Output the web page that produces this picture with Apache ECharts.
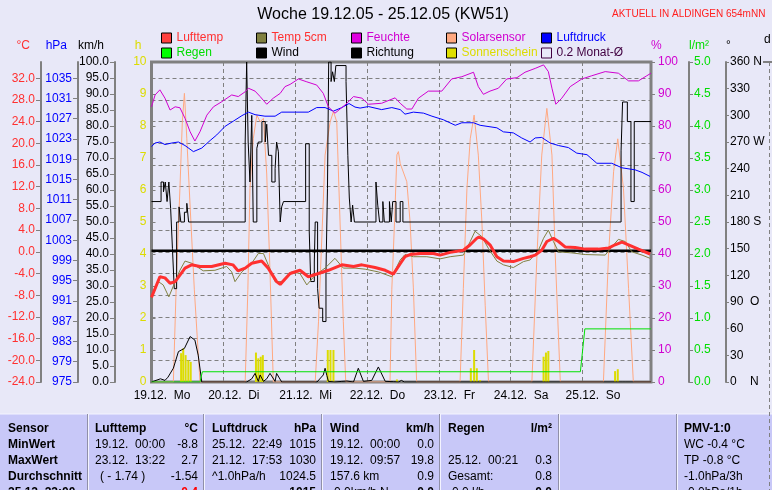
<!DOCTYPE html>
<html><head><meta charset="utf-8">
<script src="https://cdn.jsdelivr.net/npm/echarts@6/dist/echarts.min.js"></script>
<style>html,body{margin:0;padding:0;background:#e8e8f8;}#c{width:772px;height:490px;}</style>
</head><body><div id="c"></div>
<script>
// x values: hours since 19.12.05 00:00
const dayLabels = ['19.12.  Mo','20.12.  Di','21.12.  Mi','22.12.  Do','23.12.  Fr','24.12.  Sa','25.12.  So'];
const dirLabels = {360:'360 N',270:'270 W',180:'180 S',90:'90  O',0:'0    N'};

const lufttemp = [[0,-8.4],[2.8,-4.6],[4.5,-4.8],[6.2,-5.8],[7.9,-5.5],[9.5,-4.3],[11.2,-3.0],[13.4,-2.4],[16.2,-2.7],[20.1,-2.7],[24.6,-2.1],[27.2,-2.4],[28.9,-3.5],[31.3,-3.0],[33.5,-2.1],[36.8,-1.7],[39.0,-3.0],[41.8,-5.5],[43.0,-6.0],[46.3,-4.0],[49.6,-3.4],[52.4,-4.6],[55.8,-4.0],[59.1,-3.4],[63.6,-2.4],[67.5,-2.7],[70.3,-2.4],[74.7,-2.9],[78.1,-3.4],[80.8,-4.1],[83.1,-2.2],[84.7,-0.9],[86.4,-0.5],[89.8,-0.3],[94.2,-0.3],[96.4,-0.6],[99.8,-0.1],[104.2,0.3],[106.5,1.3],[108.7,2.5],[109.4,2.7],[110.9,2.4],[113.1,1.3],[115.4,-0.9],[117.6,-1.7],[120.9,-1.8],[124.3,-1.2],[126.5,-0.9],[128.2,-0.6],[130.4,0.3],[132.1,1.9],[134.3,2.5],[136.0,1.9],[138.2,0.9],[141.6,0.8],[144.9,0.5],[149.3,0.5],[152.7,0.7],[154.9,1.3],[157.2,1.8],[159.4,1.3],[162.7,0.5],[166.6,-0.4]];
const temp5cm = [[0,-8.6],[2.3,-5.5],[3.9,-6.1],[5.8,-8.3],[7.9,-5.5],[9.5,-3.4],[11.2,-1.7],[13.4,-2.1],[17.3,-3.5],[21.2,-3.4],[25.1,-2.7],[26.8,-3.7],[27.9,-5.5],[30.2,-3.7],[33.5,-2.1],[35.7,-0.3],[37.4,-0.3],[39.0,-2.4],[41.3,-5.5],[43.5,-5.5],[46.9,-3.7],[49.6,-4.0],[51.9,-6.1],[54.7,-4.3],[58.0,-3.0],[61.3,-1.2],[64.1,-3.0],[68.0,-3.0],[71.4,-3.2],[75.8,-3.7],[80.3,-4.6],[83.1,-1.5],[84.7,-0.5],[87.5,-0.9],[92.0,-0.9],[96.4,-1.3],[99.8,-0.9],[104.2,-0.6],[106.5,1.9],[108.1,3.8],[110.4,2.8],[112.6,0.6],[115.4,-1.7],[117.6,-2.4],[120.9,-2.9],[124.3,-1.8],[126.5,-1.5],[129.3,0.3],[131.0,2.5],[132.6,4.0],[134.3,1.9],[136.0,0.0],[140.5,-0.2],[144.9,-0.5],[151.6,-0.6],[153.8,0.9],[156.0,2.3],[158.3,1.9],[160.5,0.0],[163.9,-0.6],[166.6,-1.2]];
const feuchte = [[0,86.0],[1.2,89.7],[2.8,91.3],[4.5,88.7],[6.2,85.0],[7.9,86.0],[9.5,85.7],[11.2,82.4],[12.9,78.2],[14.5,75.3],[16.2,78.2],[18.5,83.4],[20.7,86.0],[23.5,87.6],[26.8,89.7],[29.0,89.2],[31.3,90.7],[32.4,91.8],[34.6,90.9],[36.3,89.2],[38.5,86.8],[40.7,88.7],[43.0,90.2],[44.6,92.3],[46.3,93.0],[49.1,94.7],[51.9,93.8],[55.2,92.8],[57.4,90.2],[59.1,86.0],[61.3,84.0],[64.7,86.6],[67.5,89.2],[70.3,88.7],[72.5,86.8],[76.9,87.1],[81.4,88.8],[83.1,87.1],[85.3,85.3],[87.0,85.3],[89.2,88.7],[92.5,90.9],[97.0,90.9],[100.3,94.7],[103.7,95.4],[107.6,96.8],[109.2,92.3],[110.9,89.9],[113.1,90.9],[115.9,91.8],[118.7,94.7],[122.1,95.1],[124.8,96.8],[128.2,98.0],[131.0,99.1],[132.6,97.0],[133.8,91.8],[135.1,86.8],[137.1,88.7],[139.9,92.3],[143.8,94.7],[147.1,95.7],[151.6,97.0],[156.0,96.5],[159.4,94.1],[162.7,94.1],[165.5,95.7],[166.9,96.5]];
const solar = [[0,0],[7.3,0],[8.4,34.5],[9.5,60.5],[10.3,81.3],[11.0,90.2],[11.8,76],[12.9,55],[14.3,29],[16.2,0],[31.3,0],[32.2,29],[32.9,60.5],[34.0,76],[35.2,83.4],[36.3,81.3],[37.4,82.4],[38.5,65],[39.6,34.5],[40.7,0],[54.7,0],[55.8,18.8],[58.0,70.9],[59.7,81.3],[60.8,84.5],[61.9,81.3],[63.0,50],[64.1,18.8],[64.9,0],[79.7,0],[80.3,29],[81.2,50],[82.0,71],[82.5,72],[83.1,68.3],[85.3,62.6],[86.4,50],[87.5,29.4],[88.6,0],[103.1,0],[104.2,29.3],[105.4,60.5],[106.5,76],[107.8,83.4],[109.2,70.9],[110.4,50],[111.5,24],[112.6,0],[127.1,0],[128.8,39.7],[130.4,70.9],[132.1,85.5],[133.8,70.9],[134.9,39.7],[136.6,0],[151.0,0],[152.7,39.7],[154.4,65.7],[155.8,76],[157.7,60.5],[159.4,29.3],[161.0,0],[166.9,0]];
const luftdruck = [[0,1021.5],[1.2,1022.2],[2.8,1022.4],[4.5,1021.9],[6.8,1022.2],[9.0,1022.4],[11.2,1021.7],[14.0,1020.5],[16.8,1021.2],[19.6,1022.7],[21.8,1023.8],[24.6,1025.5],[27.3,1026.5],[30.2,1027.6],[32.4,1028.3],[34.6,1027.8],[37.9,1027.5],[41.3,1027.5],[43.5,1028.3],[48.0,1028.3],[52.4,1028.3],[55.2,1029.2],[58.0,1029.2],[60.8,1028.5],[63.6,1029.2],[66.0,1030.0],[68.0,1029.3],[69.7,1029.1],[72.5,1029.4],[76.9,1028.8],[80.3,1029.2],[83.1,1028.8],[84.7,1027.9],[87.5,1028.3],[90.9,1028.1],[93.7,1027.5],[97.5,1026.8],[101.5,1025.7],[103.7,1026.2],[107.6,1026.2],[109.8,1025.7],[115.4,1025.2],[117.6,1024.4],[120.9,1024.2],[123.7,1023.2],[126.5,1022.4],[128.2,1023.2],[130.4,1023.3],[133.2,1022.2],[136.0,1021.7],[139.3,1021.3],[142.1,1020.2],[145.5,1019.9],[148.8,1018.2],[153.8,1018.2],[157.2,1017.3],[161.6,1016.9],[163.9,1016.4],[166.6,1015.6]];
const regen = [[0,0],[16.2,0],[17.0,0.16],[143.3,0.16],[144.8,0.83],[166.9,0.83]];
const wind = [[0,0],[1.5,0.5],[3.0,1.0],[4.5,0.5],[5.5,1.5],[7.3,4.3],[9.0,9.5],[11.0,10.5],[12.9,14.2],[14.5,13.1],[15.6,8.4],[16.8,0],[31.8,0],[33.5,1.0],[34.6,2.7],[35.7,0.2],[36.3,2.2],[37.4,0.2],[38.5,1.0],[39.6,2.7],[41.3,0.2],[41.8,2.7],[43.5,0],[55.3,0],[57.4,2.2],[58.0,4.3],[58.6,2.0],[59.1,0.2],[61.3,0],[63.6,0.2],[65.3,0.3],[67.5,0],[69.1,4.3],[70.8,0.2],[73.6,0.5],[75.8,4.7],[78.1,0.2],[80.8,0.1],[82.5,0],[83.5,0.5],[84.5,0],[157.5,0],[158.0,0.4],[158.5,0],[166.9,0]];
const richtung = [[0,203],[3.2,225],[4.0,214],[4.6,225],[5.2,203],[5.8,225],[6.4,195],[7.0,150],[7.6,105],[8.4,180],[9.2,197],[9.8,180],[11.0,191],[11.8,201],[12.4,180],[31.3,270],[31.8,360],[32.3,270],[32.9,225],[33.5,300],[34.0,180],[35.2,263],[35.7,270],[36.9,293],[38.0,270],[38.5,290],[39.1,255],[40.2,225],[41.3,240],[41.8,270],[42.4,259],[43.0,180],[43.5,197],[44.1,203],[51.5,268],[52.7,170],[53.2,113],[54.4,135],[54.7,180],[55.5,105],[56.0,83],[57.2,68],[58.3,124],[58.8,218],[59.2,360],[60.0,338],[60.5,349],[61.1,338],[61.6,356],[65.0,338],[65.6,255],[66.1,207],[66.7,180],[67.2,199],[67.8,180],[75.0,225],[75.6,199],[76.2,180],[77.3,203],[77.8,180],[79.5,203],[80.1,180],[80.6,203],[81.7,180],[83.1,203],[84.0,180],[156.9,260],[157.4,315],[159.0,293],[160.2,203],[161.3,293],[166.9,293]];
const sonnenschein = [[9.9,0.9],[10.6,1.05],[11.4,0.84],[12.3,0.68],[13.1,0.63],[34.9,0.92],[35.7,0.74],[36.5,0.79],[37.2,0.84],[58.9,1.0],[59.8,1.0],[60.8,1.0],[82.0,0.08],[106.7,0.43],[107.8,1.0],[108.7,0.43],[109.8,0.06],[131.0,0.79],[131.8,0.92],[132.6,0.97],[154.9,0.34],[155.8,0.4]];
const monatMittel = [[0,0.2],[166.9,0.2]];

const FONT = 'Liberation Sans';
const GRAY = '#808080';
const chart = echarts.init(document.getElementById('c'));

function yAxis(o) {
  return {
    type: 'value', position: o.pos, offset: o.off, min: o.min, max: o.max, interval: o.iv,
    name: o.name, nameLocation: 'end', nameGap: 10,
    nameTextStyle: {color: o.color, fontFamily: FONT, fontSize: 12, align: o.pos === 'left' ? 'right' : 'left', padding: o.pos === 'left' ? [0, o.np || 11, 0, 0] : [0, 0, 0, 0]},
    axisLine: {show: o.line !== false, onZero: false, lineStyle: {color: GRAY, width: 2}},
    axisTick: {show: true, inside: !!o.inside, length: o.tl || 5, lineStyle: {color: GRAY, width: 1}},
    splitLine: o.split ? {show: true, lineStyle: {color: GRAY, type: [4, 3], width: 1}} : {show: false},
    axisLabel: {color: o.color, fontFamily: FONT, fontSize: 12, margin: o.margin || 6, showMaxLabel: o.showMax !== false, formatter: o.fmt}
  };
}

const legendCols = [['Lufttemp','Regen'],['Temp 5cm','Wind'],['Feuchte','Richtung'],['Solarsensor','Sonnenschein'],['Luftdruck','0.2 Monat-Ø']];
const legendLeft = [161, 256, 351, 446, 541];
const legendStyle = {
  'Lufttemp': ['#ff4040', '#ff3030'], 'Regen': ['#00ff00', '#00dd00'],
  'Temp 5cm': ['#808040', '#ff3030'], 'Wind': ['#000000', '#000000'],
  'Feuchte': ['#e000e0', '#d000d0'], 'Richtung': ['#000000', '#000000'],
  'Solarsensor': ['#ffa880', '#d000d0'], 'Sonnenschein': ['#dede00', '#dcdc00'],
  'Luftdruck': ['#0000ff', '#0000ff'], '0.2 Monat-Ø': ['#e8e8f8', '#400040']
};
const legends = legendCols.map((col, i) => ({
  orient: 'vertical', left: legendLeft[i], top: 32, padding: 0, itemGap: 3,
  itemWidth: 10, itemHeight: 10, icon: 'rect', selectedMode: false,
  data: col.map(n => ({name: n, icon: 'rect',
    itemStyle: {color: legendStyle[n][0], borderColor: n === '0.2 Monat-Ø' ? '#400040' : '#000', borderWidth: 1},
    textStyle: {color: legendStyle[n][1], fontFamily: FONT, fontSize: 12}}))
}));

function line(name, yi, data, color, width, extra) {
  return Object.assign({name, type: 'line', yAxisIndex: yi, data, symbol: 'none', showSymbol: false,
    lineStyle: {color, width}, itemStyle: {color}, silent: true}, extra || {});
}

// table graphics
const g = [];
function txt(t, x, y, o) {
  o = o || {};
  g.push({type: 'text', silent: true, style: {text: t, x, y, fill: o.fill || '#000', font: (o.bold ? 'bold ' : '') + (o.size || 12) + 'px "' + FONT + '"',
    align: o.align || 'left', textAlign: o.align || 'left', verticalAlign: 'middle', textVerticalAlign: 'middle'}});
}
g.push({type: 'rect', silent: true, shape: {x: 0, y: 414, width: 772, height: 76}, style: {fill: '#c8c8f8'}});
g.push({type: 'line', silent: true, shape: {x1: 0, y1: 414, x2: 772, y2: 414}, style: {stroke: '#f4f4ff', lineWidth: 1}});
[88, 204, 322, 440, 559, 677].forEach(x => {
  g.push({type: 'line', silent: true, shape: {x1: x - 0.5, y1: 414, x2: x - 0.5, y2: 490}, style: {stroke: '#9090a8', lineWidth: 1}});
  g.push({type: 'line', silent: true, shape: {x1: x + 0.5, y1: 414, x2: x + 0.5, y2: 490}, style: {stroke: '#f4f4ff', lineWidth: 1}});
});
const R = [429, 445, 461, 477, 493];
['Sensor','MinWert','MaxWert','Durchschnitt','25.12. 23:00'].forEach((t, i) => txt(t, 8, R[i], {bold: true}));
txt('Lufttemp', 95, R[0], {bold: true}); txt('°C', 198, R[0], {bold: true, align: 'right'});
txt('19.12.  00:00', 95, R[1]); txt('-8.8', 198, R[1], {align: 'right'});
txt('23.12.  13:22', 95, R[2]); txt('2.7', 198, R[2], {align: 'right'});
txt('( - 1.74 )', 100, R[3]); txt('-1.54', 198, R[3], {align: 'right'});
txt('-0.4', 198, R[4], {align: 'right', bold: true, fill: '#ff0000'});
txt('Luftdruck', 212, R[0], {bold: true}); txt('hPa', 316, R[0], {bold: true, align: 'right'});
txt('25.12.  22:49', 212, R[1]); txt('1015', 316, R[1], {align: 'right'});
txt('21.12.  17:53', 212, R[2]); txt('1030', 316, R[2], {align: 'right'});
txt('^1.0hPa/h', 212, R[3]); txt('1024.5', 316, R[3], {align: 'right'});
txt('1015', 316, R[4], {align: 'right', bold: true});
txt('Wind', 330, R[0], {bold: true}); txt('km/h', 434, R[0], {bold: true, align: 'right'});
txt('19.12.  00:00', 330, R[1]); txt('0.0', 434, R[1], {align: 'right'});
txt('19.12.  09:57', 330, R[2]); txt('19.8', 434, R[2], {align: 'right'});
txt('157.6 km', 330, R[3]); txt('0.9', 434, R[3], {align: 'right'});
txt('-0.0km/h N', 330, R[4]); txt('0.0', 434, R[4], {align: 'right', bold: true});
txt('Regen', 448, R[0], {bold: true}); txt('l/m²', 552, R[0], {bold: true, align: 'right'});
txt('25.12.  00:21', 448, R[2]); txt('0.3', 552, R[2], {align: 'right'});
txt('Gesamt:', 448, R[3]); txt('0.8', 552, R[3], {align: 'right'});
txt('-0.0 l/h', 448, R[4]); txt('0.0', 552, R[4], {align: 'right', bold: true});
txt('PMV-1:0', 684, R[0], {bold: true});
txt('WC -0.4 °C', 684, R[1]); txt('TP -0.8 °C', 684, R[2]); txt('-1.0hPa/3h', 684, R[3]); txt('-0.0hPa/1h', 684, R[4]);
// titles
txt('Woche 19.12.05 - 25.12.05 (KW51)', 383, 15, {size: 16, align: 'center'});
txt('AKTUELL IN ALDINGEN 654mNN', 612, 14, {size: 10, fill: '#ff2020'});
// cut-off panel at right edge
txt('d', 764, 40, {size: 12});
g.push({type: 'line', silent: true, shape: {x1: 769.5, y1: 62, x2: 769.5, y2: 490}, style: {stroke: GRAY, lineWidth: 1, lineDash: [4, 3]}});
g.push({type: 'line', silent: true, shape: {x1: 763, y1: 62, x2: 772, y2: 62}, style: {stroke: GRAY, lineWidth: 2}});

chart.setOption({
  animation: false,
  backgroundColor: '#e8e8f8',
  textStyle: {fontFamily: FONT},
  grid: {left: 151.5, right: 121, top: 62, bottom: 108, show: true, borderColor: GRAY, borderWidth: 3, backgroundColor: 'transparent'},
  legend: legends,
  xAxis: {
    type: 'value', min: 0, max: 166.9, interval: 24,
    axisLine: {show: false}, axisTick: {show: false},
    splitLine: {show: true, lineStyle: {color: GRAY, type: [4, 3], width: 1}},
    axisLabel: {color: '#000', fontFamily: FONT, fontSize: 12, margin: 8, showMaxLabel: false, align: 'center', padding: [0, 0, 0, 21],
      formatter: v => (v % 24 === 0 ? (dayLabels[v / 24] || '') : '')}
  },
  yAxis: [
    yAxis({pos: 'left', off: 110.5, min: -24, max: 35, iv: 4, name: '°C', color: '#ff3030', split: true, showMax: false, fmt: v => v.toFixed(1)}),
    yAxis({pos: 'left', off: 73.5, min: 975, max: 1038.2, iv: 4, name: 'hPa', color: '#0000ff', showMax: false, fmt: v => String(Math.round(v))}),
    yAxis({pos: 'left', off: 36.5, min: 0, max: 100, iv: 5, name: 'km/h', color: '#000000', fmt: v => v.toFixed(1)}),
    yAxis({pos: 'left', off: 0, min: 0, max: 10, iv: 1, name: 'h', np: 10, color: '#dcdc00', line: false, inside: true, tl: 4, margin: 5, fmt: v => String(v)}),
    yAxis({pos: 'right', off: 0, min: 0, max: 100, iv: 10, name: '%', color: '#d000d0', line: false, tl: 4, margin: 7, fmt: v => String(v)}),
    yAxis({pos: 'right', off: 38, min: 0, max: 5, iv: 0.5, name: 'l/m²', color: '#00dd00', tl: 4, margin: 5, fmt: v => v.toFixed(1)}),
    yAxis({pos: 'right', off: 75, min: 0, max: 360, iv: 30, name: '°', color: '#000000', tl: 3, margin: 4, fmt: v => dirLabels[v] || String(v)})
  ],
  series: [
    line('Solarsensor', 4, solar, '#ffa880', 1),
    line('Richtung', 6, richtung, '#000000', 1, {step: 'end'}),
    line('Wind', 2, wind, '#000000', 1),
    line('Luftdruck', 1, luftdruck, '#0000ff', 1),
    line('Feuchte', 4, feuchte, '#d000d0', 1),
    {name: 'Sonnenschein', type: 'bar', yAxisIndex: 3, data: sonnenschein, barWidth: 2, itemStyle: {color: '#dcdc00'}, silent: true},
    line('Regen', 5, regen, '#00e000', 1),
    line('0.2 Monat-Ø', 0, monatMittel, '#000000', 2.5),
    line('Temp 5cm', 0, temp5cm, '#808040', 1),
    line('Lufttemp', 0, lufttemp, '#ff3030', 3)
  ],
  graphic: g
});
</script></body></html>
